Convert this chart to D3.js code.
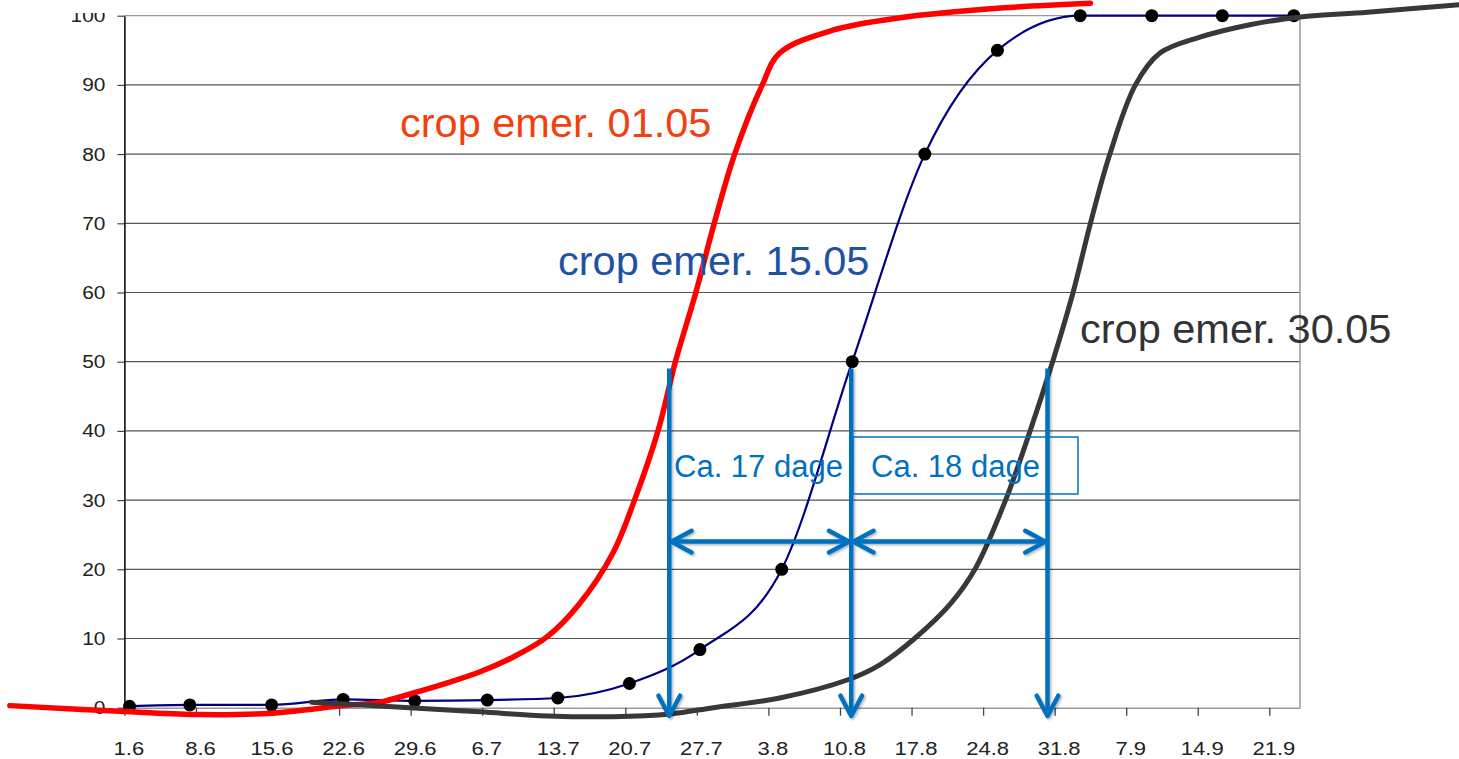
<!DOCTYPE html>
<meta charset="utf-8">
<script src="https://d3js.org/d3.v7.min.js"></script>
<style>
  body { margin: 0; background: #fff; }
  text { font-family: "Liberation Sans", Arial, sans-serif; }
</style>
<div id="chart"></div>
<script>

// tick labels of the date axis (one every 7 days)
var tickLabels = ["1.6", "8.6", "15.6", "22.6", "29.6", "6.7", "13.7", "20.7", "27.7",
                  "3.8", "10.8", "17.8", "24.8", "31.8", "7.9", "14.9", "21.9"];
var tickDays = tickLabels.map(function(d, i) { return i * 7; });

// measured series (crop emer. 15.05) - days after 1.6, percent
var blueDays   = [0.5, 6.4, 14.4, 21.4, 28.4, 35.5, 42.4, 49.4, 56.3, 64.3, 71.2, 78.3, 85.4, 93.5, 100.5, 107.4, 114.4];
var blueValues = [0.2, 0.4, 0.4, 1.2, 1.0, 1.1, 1.4, 3.5, 8.4, 20, 50, 80, 95, 100, 100, 100, 100];

// hand drawn curve, crop emer. 01.05
var redDays   = [-11.2, 0.6, 7.4, 14.4, 21.4, 25.0, 28.2, 31.6, 34.8, 38.0, 41.3, 44.5, 47.8, 49.9, 52.2, 53.9, 55.9, 57.7, 59.7, 62.4, 64.1, 69.3, 75.9, 85.7, 94.5];
var redValues = [0.3, -0.6, -1.0, -0.8, 0.3, 0.8, 2.1, 3.6, 5.2, 7.3, 10.2, 15.0, 22.4, 30, 40, 50, 60, 70, 80, 90, 94.6, 97.9, 99.7, 101.1, 101.8];

// hand drawn curve, crop emer. 30.05
var grayDays   = [18.3, 27.9, 34.8, 41.4, 47.8, 53.4, 57.6, 64.1, 70.7, 73.9, 77.3, 80.8, 83.2, 86.2, 88.6, 90.8, 92.8, 94.5, 96.4, 98.9, 101.3, 105.2, 110.1, 115.0, 121.6, 130.6];
var grayValues = [0.8, 0.0, -0.6, -1.2, -1.3, -0.9, 0.0, 1.4, 4.0, 6.2, 10, 15, 20, 30, 40, 50, 60, 70, 80, 90, 94.6, 96.9, 98.7, 99.8, 100.5, 101.6];

// arrows: 50% crossing days, and level of the horizontal arrows
var arrowDays = [53.3, 71.1, 90.3];
var arrowTop = 49, arrowBottom = -1.2, arrowLevel = 24;

var width = 1459, height = 759;

var svg = d3.select("#chart").append("svg")
  .attr("width", width)
  .attr("height", height)
  .style("background", "#fff");

var defs = svg.append("defs");
var shadow = defs.append("filter").attr("id", "shadow")
  .attr("x", "-20%").attr("y", "-20%").attr("width", "140%").attr("height", "140%");
shadow.append("feDropShadow")
  .attr("dx", 1.5).attr("dy", 1.5).attr("stdDeviation", 1.2)
  .attr("flood-color", "#000").attr("flood-opacity", 0.3);

var x = d3.scaleLinear().domain([0, 115]).range([124.4, 1300]);
var y = d3.scaleLinear().domain([0, 100]).range([707.7, 15.7]);

// gridlines
svg.append("g")
  .selectAll("line")
  .data(d3.range(10, 101, 10))
  .enter().append("line")
  .attr("x1", x(0)).attr("x2", x(115))
  .attr("y1", function(d) { return y(d); })
  .attr("y2", function(d) { return y(d); })
  .attr("stroke", function(d) { return d == 100 ? "#999" : "#555"; })
  .attr("stroke-width", 1.2);

// right border
svg.append("line")
  .attr("x1", x(115)).attr("x2", x(115))
  .attr("y1", y(100)).attr("y2", y(0))
  .attr("stroke", "#999").attr("stroke-width", 1.5);

// x axis
var xAxis = svg.append("g")
  .attr("transform", "translate(0," + y(0) + ")")
  .call(d3.axisBottom(x)
    .tickValues(tickDays)
    .tickFormat(function(d, i) { return tickLabels[i]; })
    .tickSize(8)
    .tickSizeOuter(0));
xAxis.select(".domain").attr("stroke", "#999").attr("stroke-width", 1.5);
xAxis.selectAll(".tick line").attr("stroke", "#444").attr("stroke-width", 1.3);
xAxis.selectAll(".tick text")
  .attr("y", 34)
  .attr("dy", "0.71em")
  .attr("fill", "#222")
  .style("font-size", "19px")
  .attr("transform", "translate(4,0) scale(1.16,1)");

// y axis
var yAxis = svg.append("g")
  .attr("transform", "translate(" + x(0) + ",0)")
  .call(d3.axisLeft(y)
    .tickValues(d3.range(0, 101, 10))
    .tickSize(7)
    .tickSizeOuter(0));
yAxis.select(".domain").attr("stroke", "#000").attr("stroke-width", 1.5);
yAxis.selectAll(".tick line").attr("stroke", "#444").attr("stroke-width", 1.2);
yAxis.selectAll(".tick text")
  .attr("x", 0)
  .attr("fill", "#222")
  .style("font-size", "19px")
  .attr("transform", "translate(-19,0) scale(1.1,1)");

// top of the picture is cut off
svg.append("rect")
  .attr("x", 0).attr("y", 0).attr("width", 118).attr("height", 13)
  .attr("fill", "#fff");

// measured series
var smooth = d3.line()
  .x(function(d) { return x(d[0]); })
  .y(function(d) { return y(d[1]); })
  .curve(d3.curveMonotoneX);

var blue = d3.zip(blueDays, blueValues);
svg.append("path")
  .datum(blue)
  .attr("d", smooth)
  .attr("fill", "none")
  .attr("stroke", "#000080")
  .attr("stroke-width", 2.2);

svg.append("g")
  .selectAll("circle")
  .data(blue)
  .enter().append("circle")
  .attr("cx", function(d) { return x(d[0]); })
  .attr("cy", function(d) { return y(d[1]); })
  .attr("r", 6.5)
  .attr("fill", "#000");

// drawn curves
var freehand = d3.line()
  .x(function(d) { return x(d[0]); })
  .y(function(d) { return y(d[1]); })
  .curve(d3.curveCatmullRom.alpha(0.5));

svg.append("path")
  .datum(d3.zip(redDays, redValues))
  .attr("d", freehand)
  .attr("fill", "none")
  .attr("stroke", "#ff0000")
  .attr("stroke-width", 5.5)
  .attr("stroke-linecap", "round");

svg.append("path")
  .datum(d3.zip(grayDays, grayValues))
  .attr("d", freehand)
  .attr("fill", "none")
  .attr("stroke", "#383838")
  .attr("stroke-width", 5)
  .attr("stroke-linecap", "round");

// arrows
var arrows = svg.append("g").attr("filter", "url(#shadow)")
  .attr("stroke", "#0070c0").attr("fill", "none")
  .attr("stroke-width", 4.5).attr("stroke-linecap", "round").attr("stroke-linejoin", "round");

function head(px, py, angle) {
  // open chevron with the tip at (px, py), pointing along angle
  var len = 23, spread = 28 * Math.PI / 180;
  var a1 = angle + Math.PI - spread, a2 = angle + Math.PI + spread;
  return "M" + (px + len * Math.cos(a1)) + "," + (py + len * Math.sin(a1)) +
         "L" + px + "," + py +
         "L" + (px + len * Math.cos(a2)) + "," + (py + len * Math.sin(a2));
}

arrowDays.forEach(function(d) {
  arrows.append("line")
    .attr("x1", x(d)).attr("x2", x(d))
    .attr("y1", y(arrowTop)).attr("y2", y(arrowBottom))
    .attr("stroke-linecap", "butt");
  arrows.append("path").attr("d", head(x(d), y(arrowBottom), Math.PI / 2));
});

for (var i = 0; i < arrowDays.length - 1; i++) {
  var x1 = x(arrowDays[i]), x2 = x(arrowDays[i + 1]), ya = y(arrowLevel);
  arrows.append("line").attr("x1", x1 + 2).attr("x2", x2 - 2).attr("y1", ya).attr("y2", ya);
  arrows.append("path").attr("d", head(x1 + 2, ya, Math.PI));
  arrows.append("path").attr("d", head(x2 - 2, ya, 0));
}

// day count labels
svg.append("text")
  .attr("x", 674).attr("y", 477)
  .attr("fill", "#0070c0")
  .style("font-size", "31px")
  .text("Ca. 17 dage");

svg.append("rect")
  .attr("x", 853).attr("y", 437).attr("width", 225).attr("height", 57)
  .attr("fill", "none").attr("stroke", "#0070c0").attr("stroke-width", 1.5);

svg.append("text")
  .attr("x", 871).attr("y", 477)
  .attr("fill", "#0070c0")
  .style("font-size", "31px")
  .text("Ca. 18 dage");

// curve names
svg.append("text")
  .attr("x", 400).attr("y", 137)
  .attr("fill", "#f2400f")
  .style("font-size", "41.5px")
  .text("crop emer. 01.05");

svg.append("text")
  .attr("x", 558).attr("y", 275)
  .attr("fill", "#1f52a5")
  .style("font-size", "41.5px")
  .text("crop emer. 15.05");

svg.append("text")
  .attr("x", 1080).attr("y", 343)
  .attr("fill", "#333")
  .style("font-size", "41.5px")
  .text("crop emer. 30.05");

</script>
